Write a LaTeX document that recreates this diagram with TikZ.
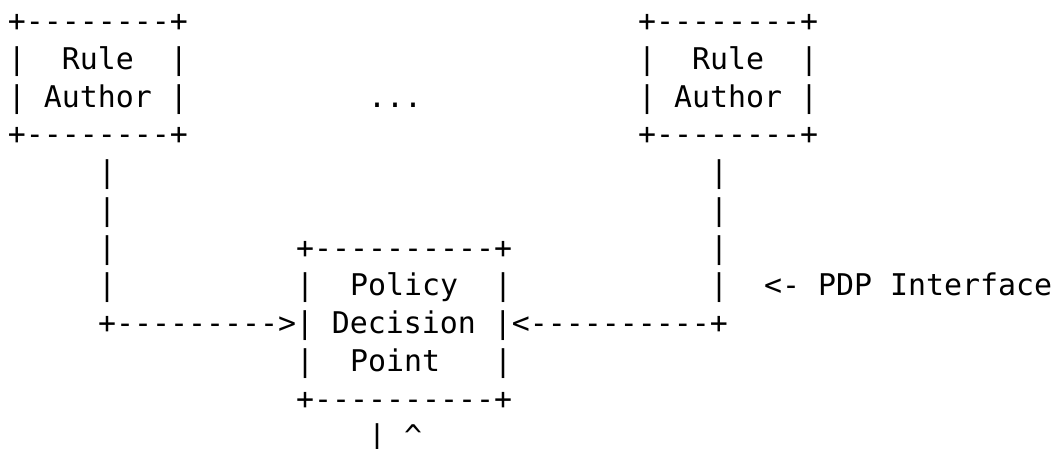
\documentclass[tikz,border=0pt]{standalone}
\usepackage{fontspec}
\newfontfamily\asciifont{DejaVu Sans Mono}[Ligatures=TeXOff]
\newcommand\asciiat[4]{\node[asciitxt] (#1) at ({8+18*#2},{417.4-37.75*#3}) {#4};}
\begin{document}
\begin{tikzpicture}[x=1pt,y=1pt,
  asciitxt/.style={anchor=base west, inner sep=0pt, outer sep=0pt,
    font=\asciifont\fontsize{29.9}{37.75}\selectfont, text=black}]
\useasboundingbox (0,0) rectangle (1059,449);
% left Rule Author box
\asciiat{ltop}{0}{0}{+--------+}
\asciiat{lrule}{0}{1}{|~~Rule~~|}
\asciiat{lauth}{0}{2}{|~Author~|}
\asciiat{lbot}{0}{3}{+--------+}
% dots
\asciiat{dots}{20}{2}{...}
% right Rule Author box
\asciiat{rtop}{35}{0}{+--------+}
\asciiat{rrule}{35}{1}{|~~Rule~~|}
\asciiat{rauth}{35}{2}{|~Author~|}
\asciiat{rbot}{35}{3}{+--------+}
% vertical connectors
\asciiat{lv4}{5}{4}{|}
\asciiat{lv5}{5}{5}{|}
\asciiat{lv6}{5}{6}{|}
\asciiat{lv7}{5}{7}{|}
\asciiat{rv4}{39}{4}{|}
\asciiat{rv5}{39}{5}{|}
\asciiat{rv6}{39}{6}{|}
\asciiat{rv7}{39}{7}{|}
% PDP box
\asciiat{ptop}{16}{6}{+----------+}
\asciiat{ppol}{16}{7}{|~~Policy~~|}
\asciiat{pdec}{5}{8}{+--------->|~Decision~|<----------+}
\asciiat{ppnt}{16}{9}{|~~Point~~~|}
\asciiat{pbot}{16}{10}{+----------+}
% interface label
\asciiat{iface}{42}{7}{<-~PDP~Interface}
% bottom arrows
\asciiat{down}{20}{11}{|~\textasciicircum}
\end{tikzpicture}
\end{document}
